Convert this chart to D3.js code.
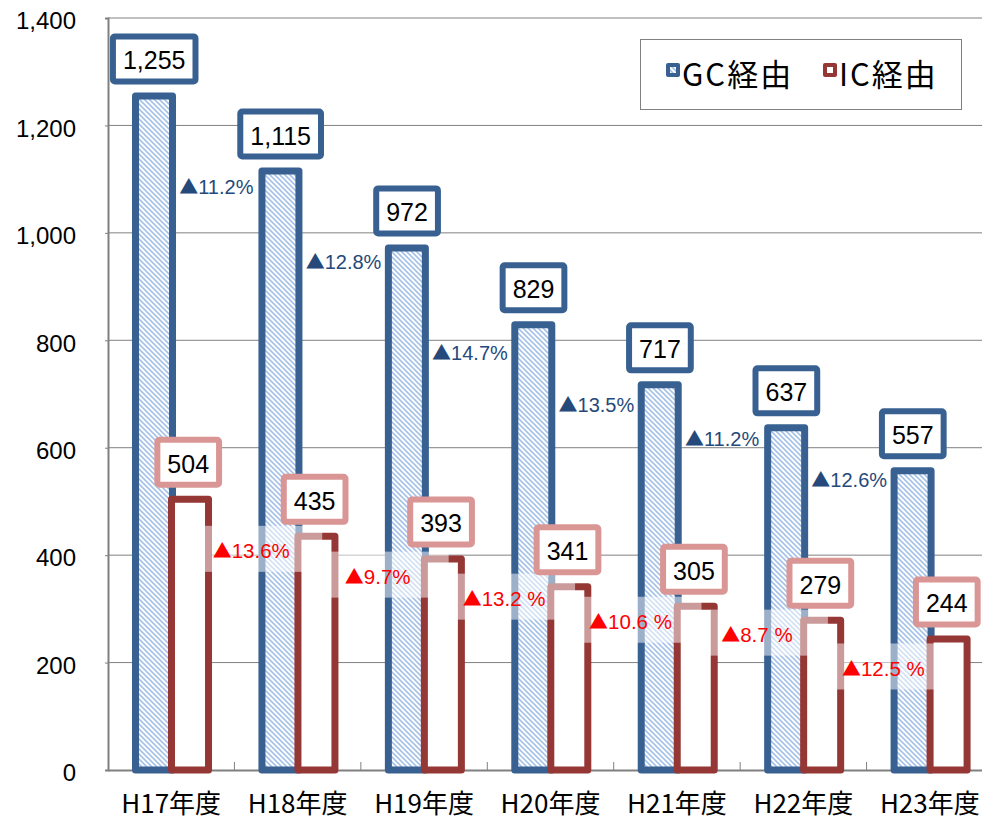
<!DOCTYPE html>
<html><head><meta charset="utf-8">
<script src="https://cdn.jsdelivr.net/npm/d3@7"></script>
<style>html,body{margin:0;padding:0;background:#fff}svg{display:block}</style>
</head><body>
<script>
const categories = ["H17年度","H18年度","H19年度","H20年度","H21年度","H22年度","H23年度"];
const gcValues = [1255,1115,972,829,717,637,557];
const icValues = [504,435,393,341,305,279,244];
const gcChange = ["11.2%","12.8%","14.7%","13.5%","11.2%","12.6%"];
const icChange = ["13.6%","9.7%","13.2 %","10.6 %","8.7 %","12.5 %"];
const gcChangeAt = [1087,946,778,680,617,540];
const icChangeAt = [408,360,319,276,252,189];
const yTicks = [0,200,400,600,800,1000,1200,1400];
const seriesNames = ["GC経由","IC経由"];

const W = 982, H = 820;
const BLUE = "#386192", RED = "#953735", PINK = "#d99694";
const svg = d3.select("body").append("svg").attr("width", W).attr("height", H);
const defs = svg.append("defs");
const pat = defs.append("pattern").attr("id","hatch").attr("patternUnits","userSpaceOnUse")
  .attr("width",5).attr("height",5);
pat.append("rect").attr("width",5).attr("height",5).attr("fill","#fff");
pat.append("path").attr("d","M-1,-1 L6,6 M-1,4 L1,6 M4,-1 L6,1")
  .attr("stroke","#a7c2e8").attr("stroke-width",1.6);

const y = d3.scaleLinear().domain([0,1400]).range([770,18]);
const x = d3.scaleBand().domain(categories).range([108,993]).padding(0);
const bw = x.bandwidth();
const cx = c => x(c) + bw/2;

// gridlines
svg.append("g").selectAll("line").data(yTicks.filter(d=>d>0)).join("line")
  .attr("x1",108).attr("x2",W).attr("y1",d=>y(d)).attr("y2",d=>y(d))
  .attr("stroke","#808080").attr("stroke-width",1);

// y axis
const yAxis = d3.axisLeft(y).tickValues(yTicks).tickSize(3).tickFormat(d3.format(","));
const gy = svg.append("g").attr("transform","translate(108,0)").call(yAxis);
gy.select(".domain").attr("stroke","#808080").attr("stroke-width",2);
gy.selectAll(".tick line").attr("stroke","#808080");
gy.selectAll(".tick text").attr("x",-32).attr("dy","0.45em")
  .attr("font-family","Liberation Sans, Arial, sans-serif").attr("font-size",24).attr("fill","#000");

// x axis
const xAxis = d3.axisBottom(x).tickSize(0).tickPadding(0);
const gx = svg.append("g").attr("transform","translate(0,770)").call(xAxis);
gx.select(".domain").attr("stroke","#808080").attr("stroke-width",2);
gx.selectAll(".tick text").attr("y",43).attr("dy",0)
  .attr("font-family","'Noto Sans CJK JP', sans-serif").attr("font-size",26).attr("fill","#000");
// category boundary ticks
svg.append("g").selectAll("line").data(categories.slice(1)).join("line")
  .attr("x1",d=>x(d)).attr("x2",d=>x(d)).attr("y1",762).attr("y2",770)
  .attr("stroke","#808080").attr("stroke-width",1);

// GC bars
svg.append("g").selectAll("rect").data(gcValues).join("rect")
  .attr("x",(d,i)=>cx(categories[i]) - 35.7).attr("width",37)
  .attr("y",d=>y(d)).attr("height",d=>y(0)-y(d))
  .attr("fill","url(#hatch)").attr("stroke",BLUE).attr("stroke-width",7)
  .attr("stroke-linejoin","round");
// IC bars
svg.append("g").selectAll("rect").data(icValues).join("rect")
  .attr("x",(d,i)=>cx(categories[i]) + 0.3).attr("width",37)
  .attr("y",d=>y(d)).attr("height",d=>y(0)-y(d))
  .attr("fill","#fff").attr("stroke",RED).attr("stroke-width",7)
  .attr("stroke-linejoin","round");

// IC change label translucent boxes
const icRight = i => cx(categories[i]) + 41;
svg.append("g").selectAll("rect").data(icChangeAt).join("rect")
  .attr("x",(d,i)=>icRight(i)-8).attr("width",118)
  .attr("y",d=>y(d)-25).attr("height",46)
  .attr("fill","#fff").attr("fill-opacity",0.5);

const TRI_FONT = "'Noto Sans CJK JP', sans-serif";
// GC change labels
const gcRight = i => cx(categories[i]) + 5;
const gcl = svg.append("g").selectAll("text").data(gcChange).join("text")
  .attr("x",(d,i)=>gcRight(i)+3).attr("y",(d,i)=>y(gcChangeAt[i])+7.5)
  .attr("font-family","Liberation Sans, Arial, sans-serif").attr("font-size",20)
  .attr("fill","#24497a");
gcl.append("tspan").attr("font-family",TRI_FONT).attr("font-size",19).text("▲");
gcl.append("tspan").text(d=>d);

// IC change labels
const icl = svg.append("g").selectAll("text").data(icChange).join("text")
  .attr("x",(d,i)=>icRight(i)+39).attr("y",(d,i)=>y(icChangeAt[i])+7.5)
  .attr("text-anchor","middle")
  .attr("font-family","Liberation Sans, Arial, sans-serif").attr("font-size",20.5)
  .attr("fill","#ff0000");
icl.append("tspan").attr("font-family",TRI_FONT).attr("font-size",19).text("▲");
icl.append("tspan").text(d=>d);

// value label boxes
function valueLabels(vals, offset, color){
  const g = svg.append("g").selectAll("g").data(vals).join("g")
    .attr("transform",(d,i)=>`translate(${cx(categories[i])+offset},${y(d)-12-25})`);
  g.append("text").attr("text-anchor","middle").attr("y",10.5)
    .attr("font-family","Liberation Sans, Arial, sans-serif").attr("font-size",25)
    .attr("fill","#000").text(d=>d3.format(",")(d));
  g.each(function(){
    const tw = d3.select(this).select("text").node().getComputedTextLength();
    d3.select(this).insert("rect","text").attr("x",-(tw+20)/2).attr("width",tw+20)
      .attr("y",-22.5).attr("height",45).attr("rx",2)
      .attr("fill","#fff").attr("stroke",color).attr("stroke-width",6);
  });
}
valueLabels(gcValues, -17, BLUE);
valueLabels(icValues, 17, PINK);

// legend
const lg = svg.append("g");
lg.append("rect").attr("x",640.5).attr("y",39.5).attr("width",321).attr("height",70)
  .attr("fill","#fff").attr("stroke","#808080").attr("stroke-width",1);
const legendItems = [
  {name: seriesNames[0], color: BLUE, x: 666, inner: "url(#hatch)"},
  {name: seriesNames[1], color: RED, x: 823, inner: "#fff"}
];
const li = lg.selectAll("g").data(legendItems).join("g");
li.append("rect").attr("x",d=>d.x).attr("y",63).attr("width",14).attr("height",14).attr("rx",2)
  .attr("fill",d=>d.color);
li.append("rect").attr("x",d=>d.x+4).attr("y",67).attr("width",6).attr("height",6)
  .attr("fill",d=>d.inner);
li.append("text").attr("x",d=>d.x+16).attr("y",86)
  .attr("font-family","'Noto Sans CJK JP', sans-serif").attr("font-size",31)
  .attr("letter-spacing",2).attr("fill","#000")
  .text(d=>d.name);
</script>
</body></html>
